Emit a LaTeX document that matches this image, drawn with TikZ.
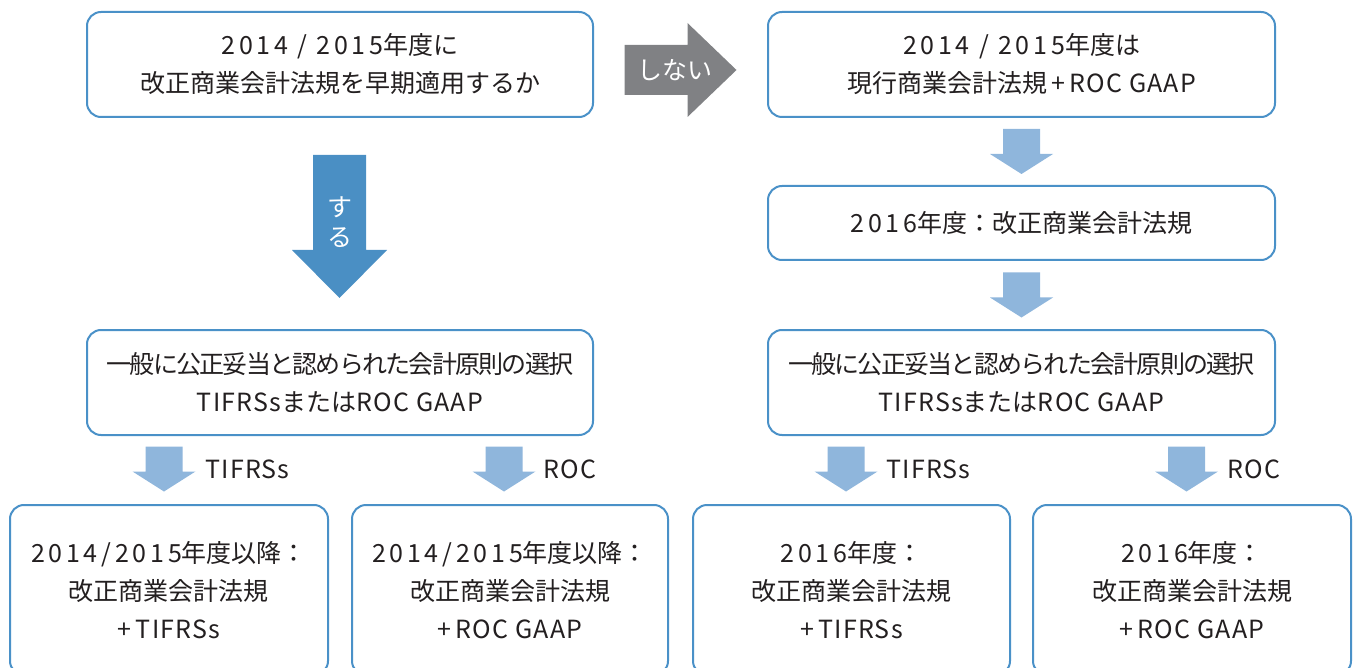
\documentclass[tikz,border=0pt]{standalone}
\usepackage{fontspec}
\setmainfont{Noto Sans CJK JP}
\newfontfamily\dgfont{Noto Sans CJK JP}[LetterSpace=15]
\newfontfamily\ltfont{Noto Sans CJK JP}[LetterSpace=5]
\newfontfamily\narrowcjk{Noto Sans CJK JP}[LetterSpace=-7]
\newcommand\dg[1]{{\dgfont #1}}
\newcommand\lt[1]{{\ltfont #1}}
\newcommand\nj[1]{{\narrowcjk #1}}
\usetikzlibrary{calc}
\definecolor{bordc}{RGB}{74,145,200}
\definecolor{bigblue}{RGB}{74,143,196}
\definecolor{lightblue}{RGB}{143,182,220}
\definecolor{arrgray}{RGB}{128,129,132}
\definecolor{txt}{RGB}{35,31,32}
\tikzset{
  box/.style={draw=bordc, line width=2pt, rounded corners=14pt, fill=white, align=center,
    text=txt, font=\fontsize{25}{38}\selectfont, inner sep=0pt},
  lbl/.style={text=txt, font=\fontsize{25}{30}\selectfont, anchor=west, inner sep=0pt},
  arrtext/.style={text=white, font=\fontsize{25}{30}\selectfont, align=center, inner sep=0pt},
  downarr/.pic={\fill[lightblue] (-18.5,-22.5) -- (18.5,-22.5) -- (18.5,2.5) -- (31.5,2.5)
      -- (0,22.5) -- (-31.5,2.5) -- (-18.5,2.5) -- cycle;}
}
\begin{document}
\begin{tikzpicture}[x=1pt,y=-1pt]
\useasboundingbox (0,0) rectangle (1357,668);
\clip (0,0) rectangle (1357,668);

% top row
\node[box, minimum width=506pt, minimum height=105pt] (a) at (340,64.5)
  {\dg{2014 / 2015}年度に\\改正商業会計法規を早期適用するか};
\node[box, minimum width=507pt, minimum height=105pt] (b) at (1021.5,64.5)
  {\dg{2014 / 2015}年度は\\現行商業会計法規\,\lt{+\,ROC GAAP}};
\node[box, minimum width=507pt, minimum height=74pt] (c) at (1021.5,223)
  {\dg{2016}年度：改正商業会計法規};
\node[box, minimum width=507pt, minimum height=105pt] (d) at (1021.5,382.5)
  {\nj{一般に公正妥当と認められた会計原則の選択}\\\lt{TIFRSs}または\lt{ROC GAAP}};
\node[box, minimum width=506pt, minimum height=105pt] (e) at (340,382.5)
  {\nj{一般に公正妥当と認められた会計原則の選択}\\\lt{TIFRSs}または\lt{ROC GAAP}};

% bottom row
\node[box, minimum width=318pt, minimum height=170pt] (f1) at (169,590)
  {\dg{2014/2015}年度以降：\\改正商業会計法規\\\lt{+\,TIFRSs}};
\node[box, minimum width=316pt, minimum height=170pt] (f2) at (510,590)
  {\dg{2014/2015}年度以降：\\改正商業会計法規\\\lt{+\,ROC GAAP}};
\node[box, minimum width=317pt, minimum height=170pt] (f3) at (851.5,590)
  {\dg{2016}年度：\\改正商業会計法規\\\lt{+\,TIFRSs}};
\node[box, minimum width=318pt, minimum height=170pt] (f4) at (1192,590)
  {\dg{2016}年度：\\改正商業会計法規\\\lt{+\,ROC GAAP}};

% gray arrow しない
\coordinate (g) at ($(a.east)!0.5!(b.west)+(0,5.5)$);
\fill[arrgray, shift={(g)}] (-56,-25) -- (7,-25) -- (7,-47) -- (56,0) -- (7,47) -- (7,25)
  -- (-56,25) -- cycle;
\node[arrtext] (gt) at ($(g)+(-5.5,0)$) {しない};

% blue arrow する
\coordinate (s) at ($(a.south)!0.5!(e.north)+(-0.5,3)$);
\fill[bigblue, shift={(s)}] (-26.5,-71.5) -- (26.5,-71.5) -- (26.5,23.5) -- (47.5,23.5)
  -- (0,71.5) -- (-47.5,23.5) -- (-26.5,23.5) -- cycle;
\node[arrtext] (st) at ($(s)+(0,-4.5)$) {す\\る};

% light arrows right column
\pic (p1) at ($(b.south)!0.5!(c.north)$) {downarr};
\pic (p2) at ($(c.south)!0.5!(d.north)$) {downarr};

% light arrows bottom row
\pic (q1) at ($(f1.north)+(-5,-35)$) {downarr};
\pic (q2) at ($(f2.north)+(-6,-35)$) {downarr};
\pic (q3) at ($(f3.north)+(-5.5,-35)$) {downarr};
\pic (q4) at ($(f4.north)+(-5.5,-35)$) {downarr};
\node[lbl] (l1) at ($(f1.north)+(36,-35)$) {\lt{TIFRSs}};
\node[lbl] (l2) at ($(f2.north)+(33,-35)$) {\lt{ROC}};
\node[lbl] (l3) at ($(f3.north)+(34.5,-35)$) {\lt{TIFRSs}};
\node[lbl] (l4) at ($(f4.north)+(35,-35)$) {\lt{ROC}};
\end{tikzpicture}
\end{document}
